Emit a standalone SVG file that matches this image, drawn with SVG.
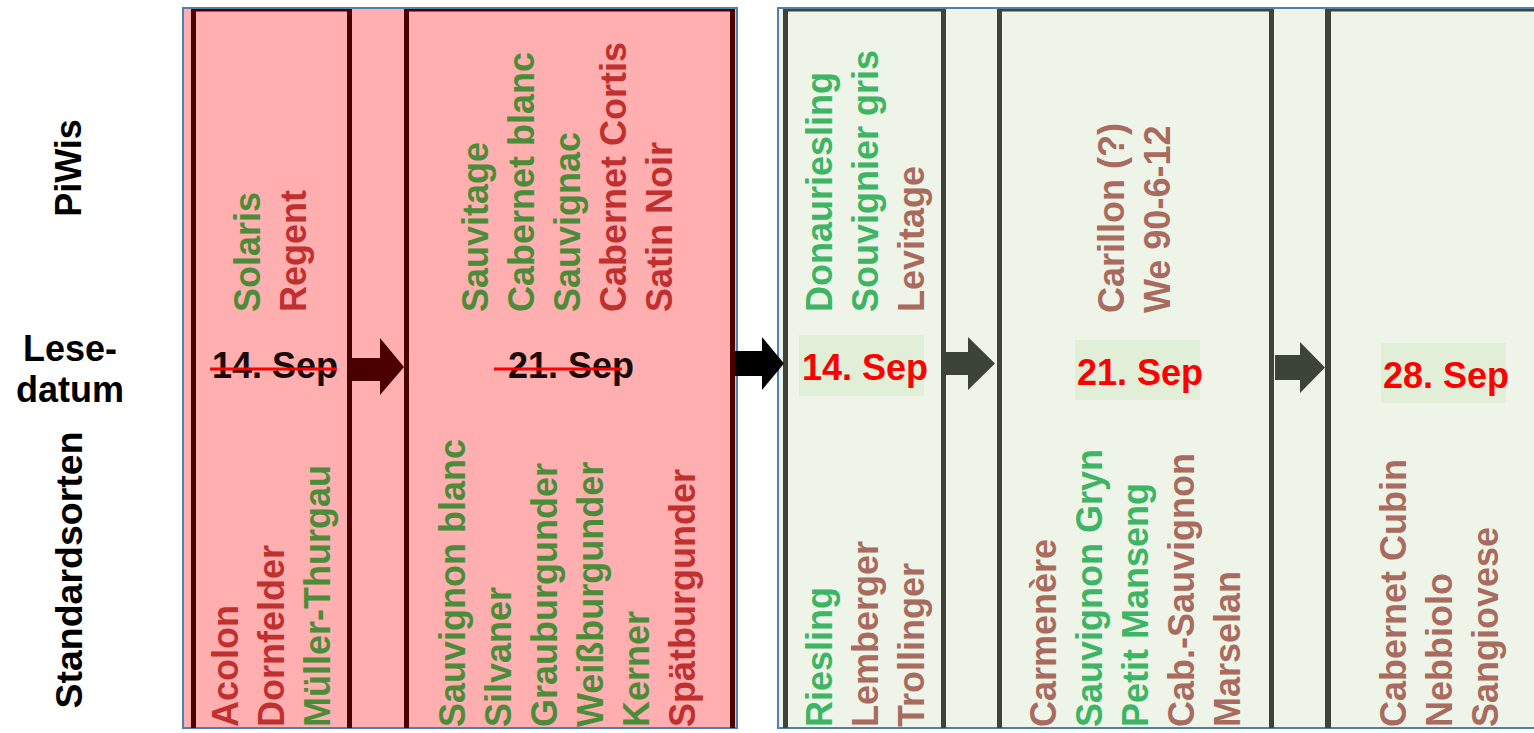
<svg xmlns="http://www.w3.org/2000/svg" width="1534" height="733" viewBox="0 0 1534 733">
<style>
text{font-family:"Liberation Sans",Arial,sans-serif;font-weight:bold;font-size:36px}
.lbl{fill:#000}
.r{fill:#C0302E}
.g{fill:#4A8C38}
.bg{fill:#3DB564}
.br{fill:#A86B5E}
.date{fill:#FF0000}
.old{fill:#1a0a0a}
.strike{stroke:#FF0000;stroke-width:3}
.panelL{fill:#FFAFAF;stroke:#4F7FB5;stroke-width:2}
.panelR{fill:#EEF5E8;stroke:#4F7FB5;stroke-width:2}
.topL{fill:#4B0000}
.barL{fill:#4B0000}
.topR{fill:#3C4438}
.barR{fill:#3C4438}
.hl{fill:#E1EED8}
</style>
<rect width="1534" height="733" fill="#FFFFFF"/>

<g id="labels">
<text class="lbl" transform="translate(81,168) rotate(-90)" text-anchor="middle">PiWis</text>
<text class="lbl" x="70" y="361" text-anchor="middle">Lese-</text>
<text class="lbl" x="70" y="402" text-anchor="middle">datum</text>
<text class="lbl" transform="translate(82,570) rotate(-90)" text-anchor="middle" style="font-size:37.5px">Standardsorten</text>
</g>

<g id="panel-old">
<rect class="panelL" x="183" y="8" width="554" height="720"/>
</g>

<g id="col-old-14">
<rect class="topL" x="191" y="9" width="161" height="2.5"/>
<rect class="barL" x="191" y="9" width="5" height="719"/>
<rect class="barL" x="347" y="9" width="5" height="719"/>
<text class="g" transform="translate(260,312) rotate(-90)">Solaris</text>
<text class="r" transform="translate(306,312) rotate(-90)">Regent</text>
<text class="old" x="212" y="378">14. Sep</text>
<line class="strike" x1="210" y1="369" x2="337" y2="369"/>
<text class="r" transform="translate(238,727) rotate(-90)">Acolon</text>
<text class="r" transform="translate(284,727) rotate(-90)">Dornfelder</text>
<text class="g" transform="translate(330,727) rotate(-90)">Müller-Thurgau</text>
</g>

<g id="col-old-21">
<rect class="topL" x="404" y="9" width="331" height="2.5"/>
<rect class="barL" x="404" y="9" width="5" height="719"/>
<rect class="barL" x="730" y="9" width="5" height="719"/>
<text class="g" transform="translate(488,312) rotate(-90)">Sauvitage</text>
<text class="g" transform="translate(534,312) rotate(-90)">Cabernet blanc</text>
<text class="g" transform="translate(580,312) rotate(-90)">Sauvignac</text>
<text class="r" transform="translate(626,312) rotate(-90)">Cabernet Cortis</text>
<text class="r" transform="translate(672,312) rotate(-90)">Satin Noir</text>
<text class="old" x="508" y="378">21. Sep</text>
<line class="strike" x1="494" y1="369" x2="622" y2="369"/>
<text class="g" transform="translate(465,727) rotate(-90)">Sauvignon blanc</text>
<text class="g" transform="translate(511,727) rotate(-90)">Silvaner</text>
<text class="g" transform="translate(557,727) rotate(-90)">Grauburgunder</text>
<text class="g" transform="translate(603,727) rotate(-90)">Weißburgunder</text>
<text class="g" transform="translate(649,727) rotate(-90)">Kerner</text>
<text class="r" transform="translate(695,727) rotate(-90)">Spätburgunder</text>
</g>

<g id="panel-new">
<rect class="panelR" x="778" y="8" width="770" height="720"/>
</g>

<g id="col-new-14">
<rect class="topR" x="783" y="9" width="163" height="2.5"/>
<rect class="barR" x="783" y="9" width="5" height="719"/>
<rect class="barR" x="941" y="9" width="5" height="719"/>
<text class="bg" transform="translate(832,312) rotate(-90)">Donauriesling</text>
<text class="bg" transform="translate(878,312) rotate(-90)">Souvignier gris</text>
<text class="br" transform="translate(924,312) rotate(-90)">Levitage</text>
<rect class="hl" x="799" y="335" width="125" height="61"/>
<text class="date" x="802" y="380">14. Sep</text>
<text class="bg" transform="translate(832,727) rotate(-90)">Riesling</text>
<text class="br" transform="translate(878,727) rotate(-90)">Lemberger</text>
<text class="br" transform="translate(924,727) rotate(-90)">Trollinger</text>
</g>

<g id="col-new-21">
<rect class="topR" x="997" y="9" width="277" height="2.5"/>
<rect class="barR" x="997" y="9" width="5" height="719"/>
<rect class="barR" x="1269" y="9" width="5" height="719"/>
<text class="br" transform="translate(1124,313) rotate(-90)">Carillon (?)</text>
<text class="br" transform="translate(1170,313) rotate(-90)">We 90-6-12</text>
<rect class="hl" x="1075" y="340" width="125" height="60"/>
<text class="date" x="1077" y="385">21. Sep</text>
<text class="br" transform="translate(1056,727) rotate(-90)">Carmenère</text>
<text class="bg" transform="translate(1102,727) rotate(-90)">Sauvignon Gryn</text>
<text class="bg" transform="translate(1148,727) rotate(-90)">Petit Manseng</text>
<text class="br" transform="translate(1194,727) rotate(-90)">Cab.-Sauvignon</text>
<text class="br" transform="translate(1240,727) rotate(-90)">Marselan</text>
</g>

<g id="col-new-28">
<rect class="topR" x="1325" y="9" width="209" height="2.5"/>
<rect class="barR" x="1325" y="9" width="6" height="719"/>
<rect class="hl" x="1381" y="343" width="125" height="60"/>
<text class="date" x="1383" y="388">28. Sep</text>
<text class="br" transform="translate(1406,727) rotate(-90)">Cabernet Cubin</text>
<text class="br" transform="translate(1452,727) rotate(-90)">Nebbiolo</text>
<text class="br" transform="translate(1498,727) rotate(-90)">Sangiovese</text>
</g>

<g id="connectors">
<polygon fill="#4B0000" points="352,358 380,358 380,338 404,367 380,395 380,381 352,381"/>
<polygon fill="#000000" points="735,351 762,351 762,337 784,363.5 762,390 762,376 735,376"/>
<polygon fill="#3C4438" points="946,352 968,352 968,337 995,363.5 968,390 968,375 946,375"/>
<polygon fill="#3C4438" points="1275,355 1300,355 1300,342 1325,367.5 1300,393 1300,380 1275,380"/>
</g>
</svg>
